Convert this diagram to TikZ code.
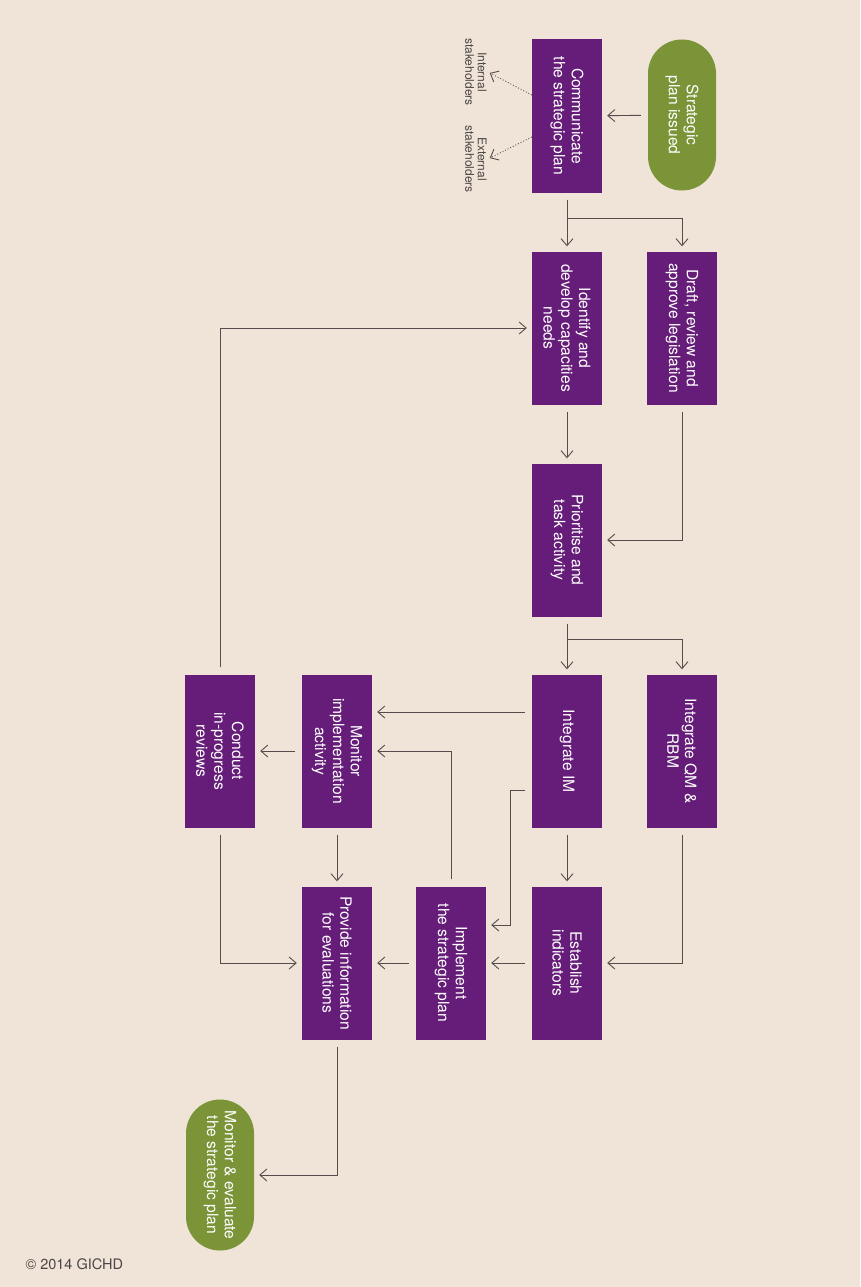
\documentclass[tikz,border=0pt]{standalone}
\usepackage{fontspec}
\setmainfont{TeX Gyre Heros}
\usepackage{xcolor}
\usetikzlibrary{arrows.meta}
\definecolor{paper}{HTML}{F0E3D7}
\definecolor{plum}{HTML}{661D79}
\definecolor{moss}{HTML}{7A9437}
\definecolor{wire}{HTML}{564C4C}
\definecolor{inkgray}{HTML}{4A4646}
\tikzset{
  task/.style     = { fill=plum, minimum width=70pt, minimum height=153pt, inner sep=0pt },
  terminal/.style = { fill=moss, rounded corners=34pt, minimum width=68pt, minimum height=151pt, inner sep=0pt },
  caption/.style  = { rotate=-90, align=center, text=white, font=\fontsize{15.6}{17.8}\selectfont },
  aside/.style    = { rotate=-90, align=center, text=inkgray, inner sep=1pt, font=\fontsize{12}{12.5}\selectfont },
  flow/.style     = { draw=wire, line width=0.9pt, -{Straight Barb[length=7pt,width=12pt]}, shorten <=7pt, shorten >=5pt },
  inform/.style   = { flow, dotted, shorten <=0pt, shorten >=2pt }
}

\begin{document}
\begin{tikzpicture}[x=1pt, y=-1pt]
  % Draw background
  \fill[paper] (0,0) rectangle (860,1287);

  % Draw all steps
  \node[terminal, label={[caption]center:{Strategic\\plan issued}}] (issued) at (682,115) {};
  \node[task, label={[caption]center:{Communicate\\the strategic plan}}] (comm) at (567,116) {};

  \node[task, label={[caption]center:{Draft, review and\\approve legislation}}] (draft) at (682,328) {};
  \node[task, label={[caption]center:{Identify and\\develop capacities\\needs}}] (ident) at (567,328) {};
  \node[task, label={[caption]center:{Prioritise and\\task activity}}] (prior) at (567,540) {};

  \node[task, label={[caption]center:{Integrate QM \&\\RBM}}] (qm) at (682,751) {};
  \node[task, label={[caption]center:{Integrate IM}}] (im) at (567,751) {};
  \node[task, label={[caption]center:{Monitor\\implementation\\activity}}] (monit) at (337,751) {};
  \node[task, label={[caption]center:{Conduct\\in-progress\\reviews}}] (review) at (220,751) {};

  \node[task, label={[caption]center:{Establish\\indicators}}] (indic) at (567,963) {};
  \node[task, label={[caption]center:{Implement\\the strategic plan}}] (impl) at (451,963) {};
  \node[task, label={[caption]center:{Provide information\\for evaluations}}] (provide) at (337,963) {};

  \node[terminal, label={[caption]center:{Monitor \& evaluate\\the strategic plan}}] (evaluate) at (220,1175) {};

  % Draw stakeholders
  \node[aside] (intsh) at (476,72) {Internal\\stakeholders};
  \node[aside] (extsh) at (476,159) {External\\stakeholders};

  % Draw connectors
  \draw[flow] (issued) -- (comm);
  \draw[inform] ([yshift=21pt]comm.west) -- (intsh.north);
  \draw[inform] ([yshift=-21pt]comm.west) -- (extsh.north);

  \draw[flow] (comm) -- (ident);
  \draw[flow] (comm.south) -- ++(0,26) -| (draft.north);
  \draw[flow] (ident) -- (prior);
  \draw[flow] (draft.south) |- (prior.east);

  \draw[flow] (prior) -- (im);
  \draw[flow] (prior.south) -- ++(0,23) -| (qm.north);
  \draw[flow] ([yshift=39pt]im.west) -- ([yshift=39pt]monit.east);
  \draw[flow] ([yshift=-39pt]im.west) -- ++(-21,0) |- ([yshift=38pt]impl.east);
  \draw[flow] (monit) -- (review);
  \draw[flow] (review.north) |- (ident.west);

  \draw[flow] (im) -- (indic);
  \draw[flow] (qm.south) |- (indic.east);
  \draw[flow] (indic) -- (impl);
  \draw[flow] (impl.north) |- (monit.east);
  \draw[flow] (impl) -- (provide);
  \draw[flow] (monit) -- (provide);
  \draw[flow] (review.south) |- (provide.west);
  \draw[flow] (provide.south) |- (evaluate.east);

  % Draw credit
  \node[anchor=west, text=inkgray, font=\fontsize{14.5}{17}\selectfont] (credit) at (22,1264) {\textcopyright{} 2014 GICHD};
\end{tikzpicture}
\end{document}
